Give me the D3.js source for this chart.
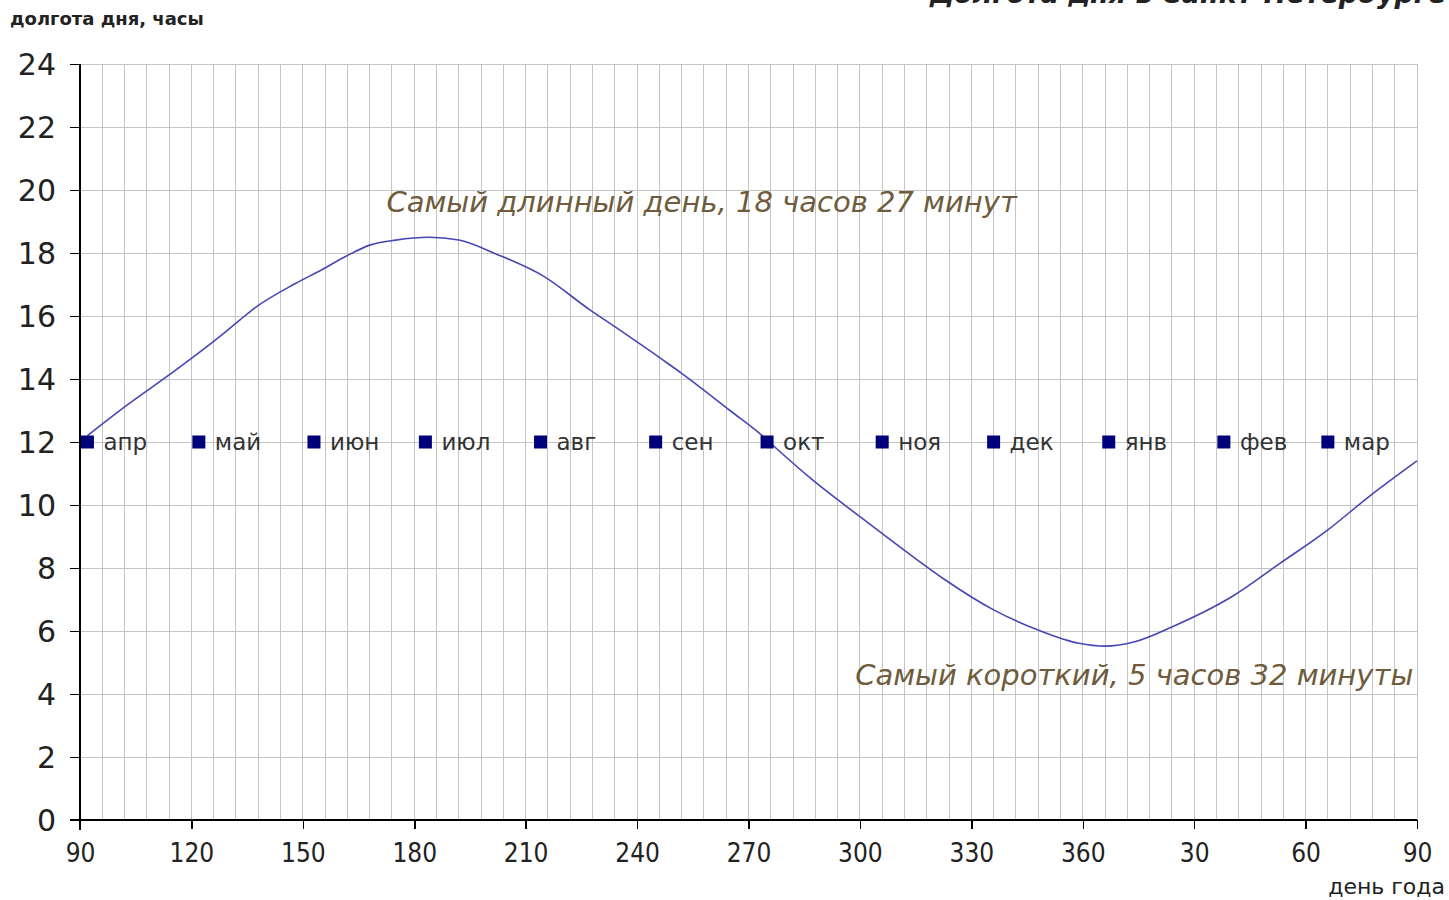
<!DOCTYPE html>
<meta charset="utf-8">
<style>
    body { margin: 0; background: #fff; }
    text { font-family: "DejaVu Sans", Verdana, sans-serif; }
    .grid line { stroke: #c4c4c4; stroke-width: 1px; shape-rendering: crispEdges; }
    .axis path, .axis line { stroke: #000; stroke-width: 1.5px; shape-rendering: crispEdges; }
    .ylab { font-size: 30px; fill: #222; }
    .xlab { font-size: 26px; fill: #222; font-family: "DejaVu Sans Condensed", "DejaVu Sans", sans-serif; }
    .month { font-size: 23px; fill: #333; }
    .note { font-size: 29px; font-style: italic; fill: #6e5c3c; }
</style>
<body>
<script src="https://d3js.org/d3.v7.min.js"></script>
<script>
    // день года -> долгота дня, часы
    var days = [92, 103, 114, 127, 133, 137, 148, 155, 162, 168, 175, 184, 192, 202, 215, 227, 234, 247, 252,
        265, 274, 277, 287, 300, 313, 323, 336, 348, 359, 366, 374, 384, 400, 413, 426, 437, 450];
    var hours = [12.2, 13.2, 14.13, 15.29, 15.87, 16.25, 17.03, 17.46, 17.92, 18.25, 18.41, 18.5, 18.41, 17.97, 17.25,
        16.22, 15.66, 14.6, 14.18, 13.0, 12.17, 11.85, 10.82, 9.63, 8.47, 7.62, 6.67, 6.03, 5.61, 5.52, 5.66,
        6.13, 7.08, 8.14, 9.21, 10.26, 11.4];

    var monthNames = ["апр", "май", "июн", "июл", "авг", "сен", "окт", "ноя", "дек", "янв", "фев", "мар"];
    var monthDays = [92, 122, 153, 183, 214, 245, 275, 306, 336, 367, 398, 426];
    var monthLevel = 12;

    var xTicks = [90, 120, 150, 180, 210, 240, 270, 300, 330, 360, 390, 420, 450];
    var xTickLabels = ["90", "120", "150", "180", "210", "240", "270", "300", "330", "360", "30", "60", "90"];
    var yTicks = [0, 2, 4, 6, 8, 10, 12, 14, 16, 18, 20, 22, 24];

    var notes = ["Самый длинный день, 18 часов 27 минут", "Самый короткий, 5 часов 32 минуты"];
    var noteDays = [172.5, 449];
    var noteHours = [19.3, 4.3];

    var pL = 80, pR = 1417, pT = 64, pB = 820;

    var x = d3.scaleLinear().domain([90, 450]).range([pL, pR]);
    var y = d3.scaleLinear().domain([0, 24]).range([pB, pT]);

    var svg = d3.select("body").append("svg").attr("width", 1449).attr("height", 900);

    // сетка
    var grid = svg.append("g").attr("class", "grid");
    grid.selectAll(".v").data(d3.range(96, 451, 6)).enter().append("line")
        .attr("x1", d => x(d)).attr("x2", d => x(d)).attr("y1", pT).attr("y2", pB);
    grid.selectAll(".h").data(yTicks.slice(1)).enter().append("line")
        .attr("x1", pL).attr("x2", pR).attr("y1", d => y(d)).attr("y2", d => y(d));

    // оси
    var gx = svg.append("g").attr("class", "axis").attr("transform", "translate(0," + pB + ")")
        .call(d3.axisBottom(x).tickValues(xTicks).tickSize(9).tickSizeOuter(0).tickFormat((d, i) => xTickLabels[i]));
    gx.selectAll("text").attr("class", "xlab").attr("dy", "1.15em");
    gx.select(".domain").attr("d", "M" + (pL - 10) + ",0H" + pR);

    var gy = svg.append("g").attr("class", "axis").attr("transform", "translate(" + pL + ",0)")
        .call(d3.axisLeft(y).tickValues(yTicks).tickSize(10).tickSizeOuter(0).tickPadding(14));
    gy.selectAll("text").attr("class", "ylab").attr("dy", "0.36em");
    gy.select(".domain").attr("d", "M0," + pT + "V" + (pB + 10));
    svg.selectAll(".axis").attr("font-size", null).attr("font-family", null);

    // кривая
    var line = d3.line().x((d, i) => x(days[i])).y((d, i) => y(hours[i])).curve(d3.curveMonotoneX);
    svg.append("path").datum(hours).attr("d", line)
        .attr("fill", "none").attr("stroke", "#4646b4").attr("stroke-width", 1.6);

    // отметки месяцев
    var m = svg.append("g").selectAll("g").data(monthNames).enter().append("g")
        .attr("transform", (d, i) => "translate(" + x(monthDays[i]) + "," + y(monthLevel) + ")");
    m.append("rect").attr("x", -6.5).attr("y", -6.5).attr("width", 13).attr("height", 13).attr("fill", "#00007a");
    m.append("text").attr("class", "month").attr("x", 16).attr("dy", "0.36em").text(d => d);

    // подписи
    svg.append("text").attr("class", "note").attr("x", x(noteDays[0])).attr("y", y(noteHours[0]))
        .attr("text-anchor", "start").text(notes[0]);
    svg.append("text").attr("class", "note").attr("x", x(noteDays[1])).attr("y", y(noteHours[1]))
        .attr("text-anchor", "end").text(notes[1]);

    // заголовки осей
    svg.append("text").attr("x", 10).attr("y", 25).style("font-size", "18px").style("font-weight", "bold")
        .style("fill", "#222").text("долгота дня, часы");
    svg.append("text").attr("x", 1445).attr("y", 894).attr("text-anchor", "end").style("font-size", "22px")
        .style("fill", "#222").text("день года");
    svg.append("text").attr("x", 930).attr("y", 3).style("font-size", "27px").style("font-weight", "bold")
        .style("font-style", "italic").style("fill", "#222").text("Долгота дня в Санкт-Петербурге");
</script>
</body>
